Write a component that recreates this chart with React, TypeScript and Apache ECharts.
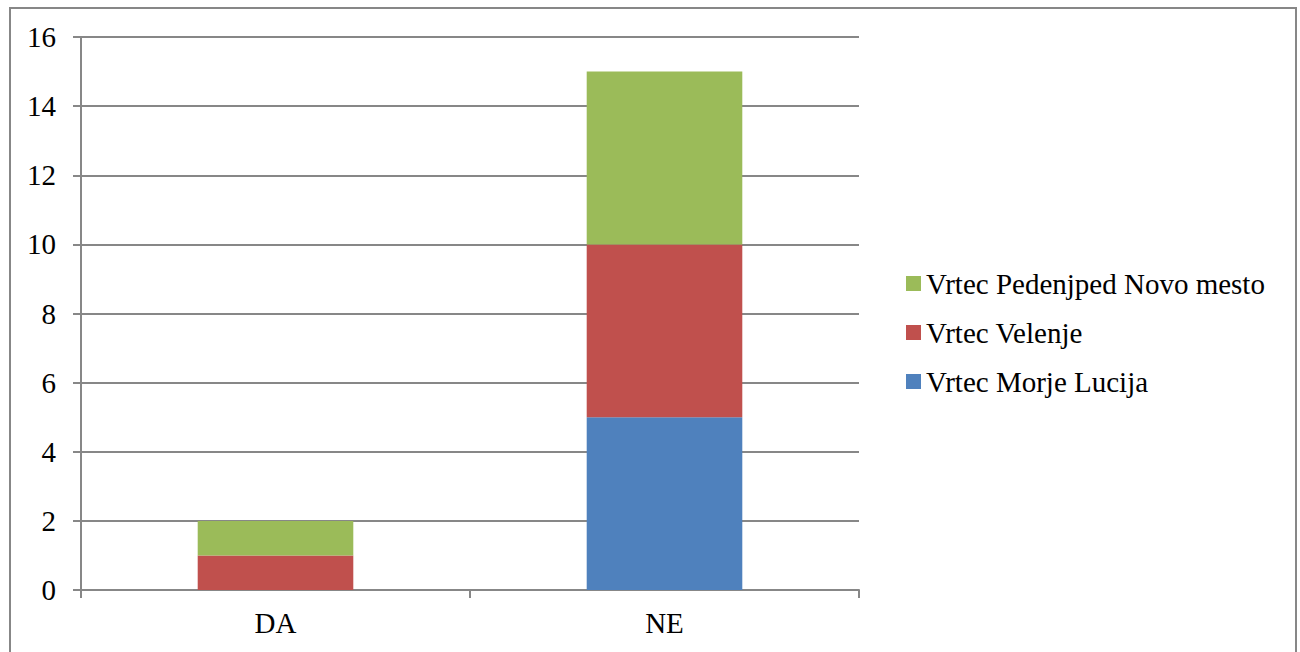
import React, { useEffect, useRef } from "react";
import * as echarts from "echarts";

// Answer categories
const categories = ["DA", "NE"];

// Stacked series, bottom to top
const seriesNames = ["Vrtec Morje Lucija", "Vrtec Velenje", "Vrtec Pedenjped Novo mesto"];
const morjeLucija = [0, 5];
const velenje = [1, 5];
const pedenjped = [1, 5];

const seriesColors = ["#4F81BD", "#C0504D", "#9BBB59"];
const legendOrder = ["Vrtec Pedenjped Novo mesto", "Vrtec Velenje", "Vrtec Morje Lucija"];

const FONT = "serif";
const GRAY = "#878787";

// Serif text style used through rich text for every label
const serifRich = { t: { fontFamily: FONT, fontSize: 29, color: "#000" } };

export default function App() {
  const ref = useRef<HTMLDivElement>(null);

  useEffect(() => {
    if (!ref.current) return;
    const chart = echarts.init(ref.current, undefined, { renderer: "svg" });
    const values = [morjeLucija, velenje, pedenjped];
    chart.setOption({
      animation: false,
      textStyle: { fontFamily: FONT },
      grid: { left: 81, top: 37, right: 441, bottom: 62 },
      legend: {
        orient: "vertical",
        left: 901,
        top: 264,
        itemWidth: 15,
        itemHeight: 15,
        itemGap: 20,
        icon: "rect",
        data: legendOrder,
        formatter: "{t|{name}}",
        textStyle: { fontFamily: FONT, fontSize: 29, color: "#000", rich: serifRich },
      },
      xAxis: {
        type: "category",
        data: categories,
        boundaryGap: true,
        axisLine: { lineStyle: { color: GRAY, width: 2 } },
        axisTick: { show: true, length: 8, lineStyle: { color: GRAY, width: 2 } },
        axisLabel: {
          fontFamily: FONT,
          fontSize: 29,
          color: "#000",
          margin: 18,
          formatter: "{t|{value}}",
          rich: serifRich,
        },
        splitLine: { show: false },
      },
      yAxis: {
        type: "value",
        min: 0,
        max: 16,
        interval: 2,
        axisLine: { show: true, lineStyle: { color: GRAY, width: 2 } },
        axisTick: { show: true, length: 8, lineStyle: { color: GRAY, width: 2 } },
        axisLabel: {
          fontFamily: FONT,
          fontSize: 29,
          color: "#000",
          margin: 25,
          formatter: "{t|{value}}",
          rich: serifRich,
        },
        splitLine: { show: true, lineStyle: { color: GRAY, width: 2 } },
      },
      series: seriesNames.map((name, i) => ({
        name,
        type: "bar",
        stack: "total",
        barCategoryGap: "60%",
        data: values[i],
        itemStyle: { color: seriesColors[i] },
      })),
    });
    return () => chart.dispose();
  }, []);

  return (
    <div style={{ position: "absolute", left: 0, top: 0, width: 1300, height: 652, overflow: "hidden", background: "#fff" }}>
      <div
        style={{
          position: "absolute",
          left: 9,
          top: 7,
          width: 1284,
          height: 700,
          border: `2px solid ${GRAY}`,
        }}
      />
      <div
        ref={ref}
        style={{ position: "absolute", left: 0, top: 0, width: 1300, height: 652 }}
      />
    </div>
  );
}
